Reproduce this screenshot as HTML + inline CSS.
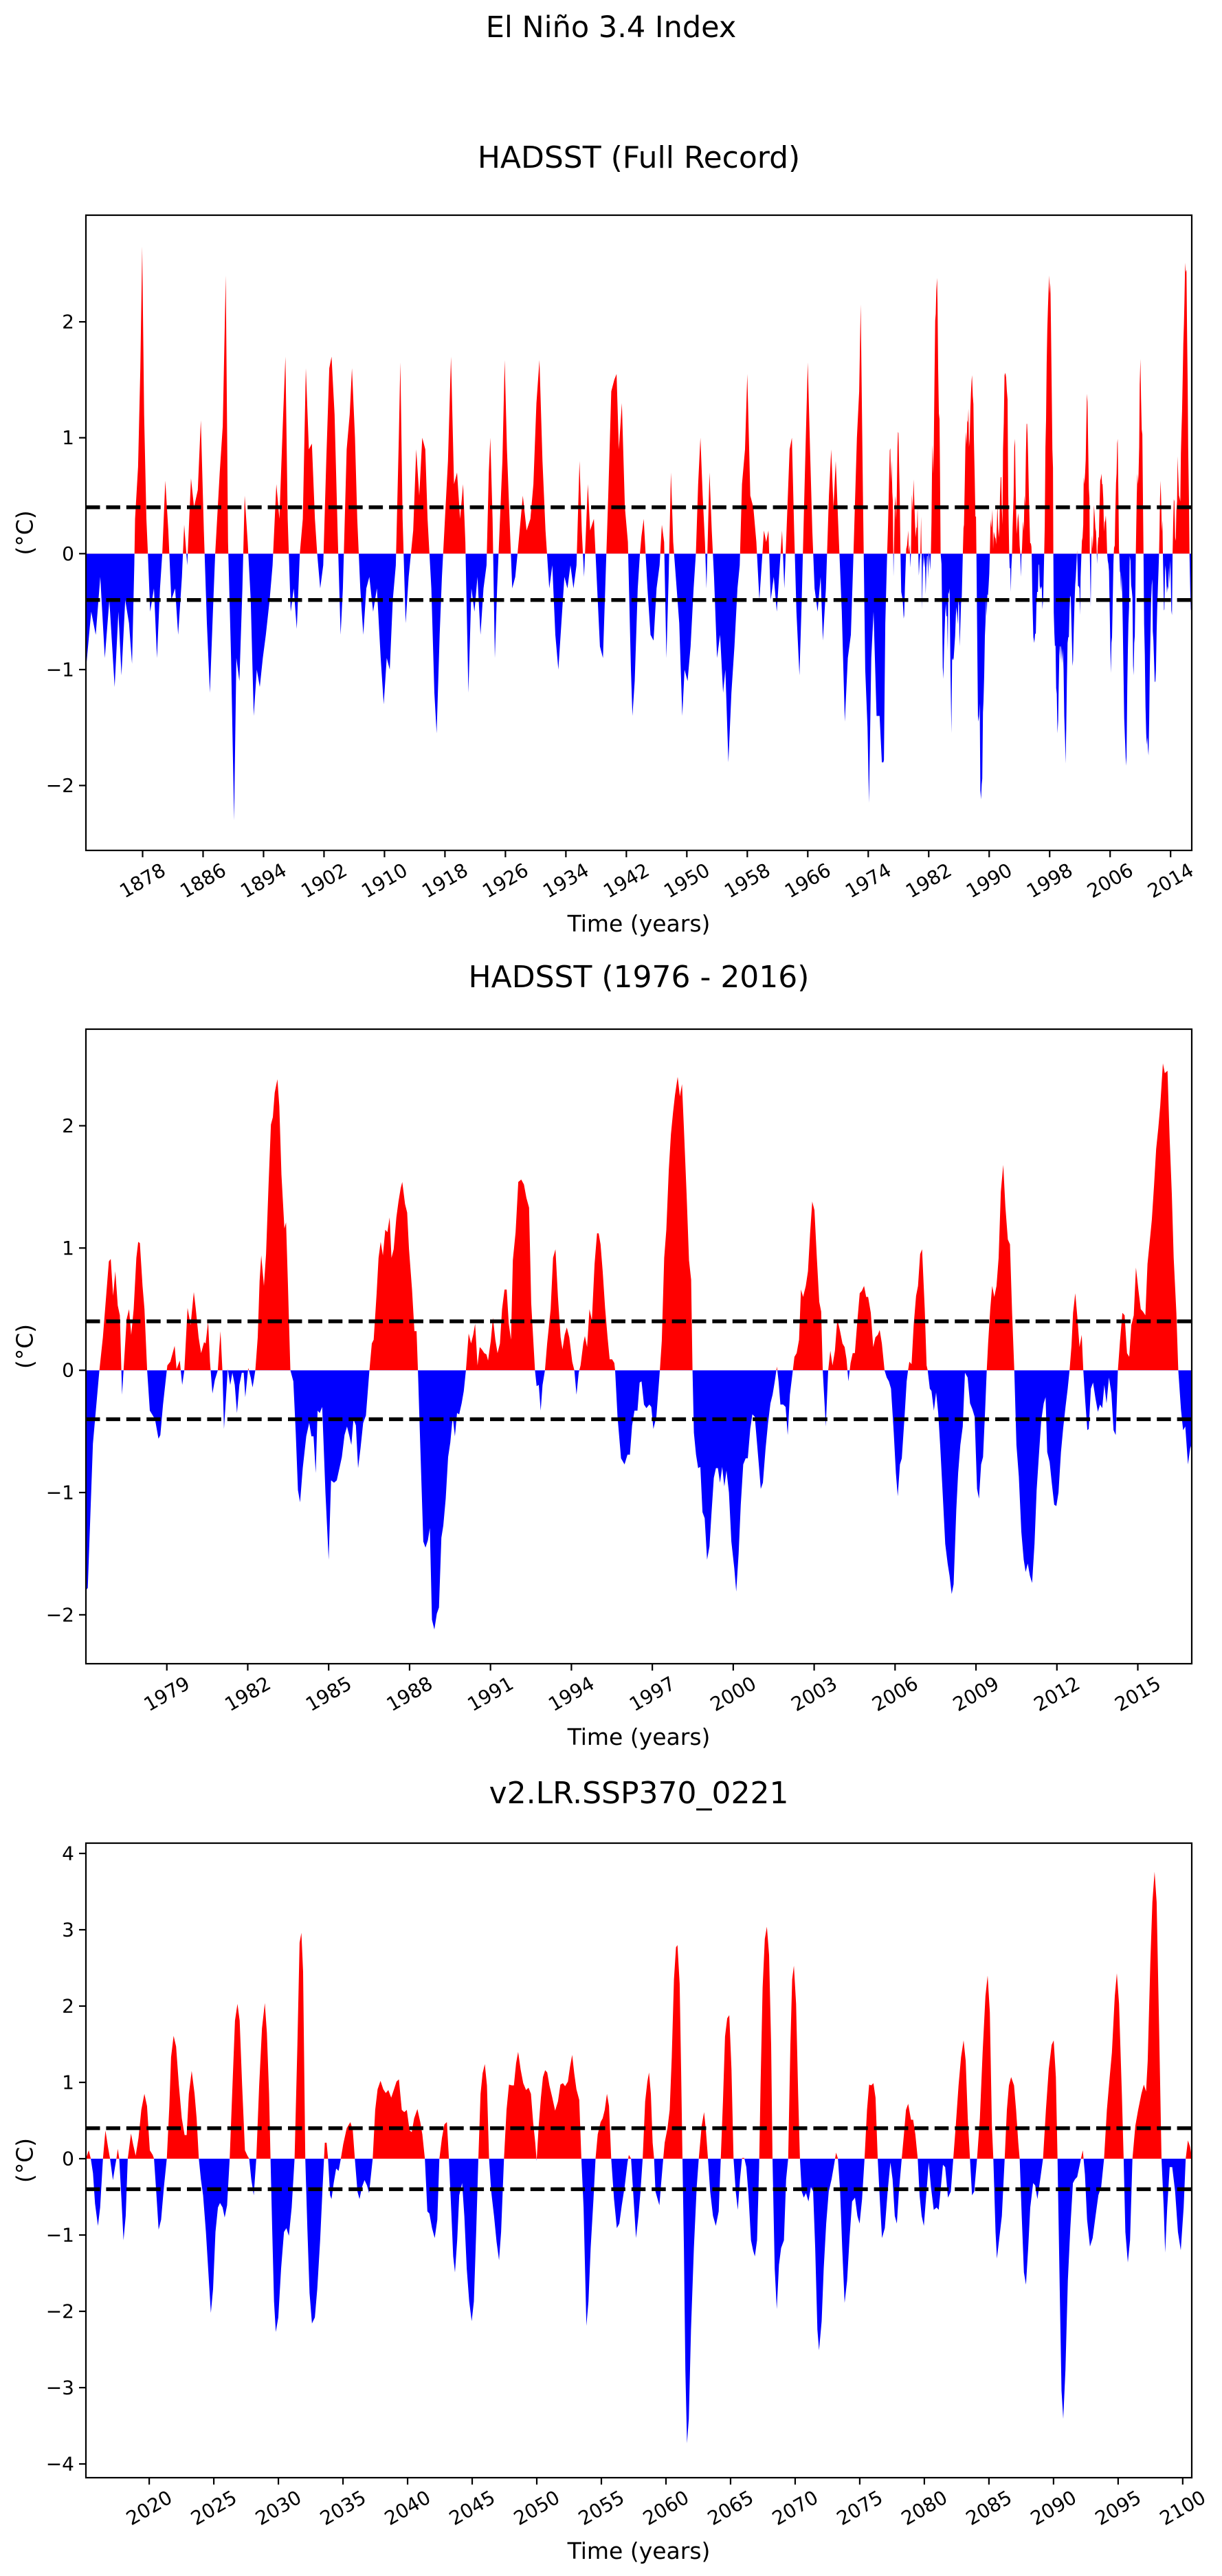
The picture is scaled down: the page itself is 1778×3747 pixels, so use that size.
<!DOCTYPE html>
<html><head><meta charset="utf-8"><style>
html,body{margin:0;padding:0;background:#fff;}
svg{display:block;font-family:"DejaVu Sans","Liberation Sans",sans-serif;}
</style></head><body>
<svg id="fig" width="1778" height="3747" viewBox="0 0 1778 3747" xmlns="http://www.w3.org/2000/svg">
<rect width="1778" height="3747" fill="#fff"/>
<text x="889" y="54" font-size="43" text-anchor="middle">El Niño 3.4 Index</text>
</svg>
<script>
// ---- Data ----
const earlyYears=[1870.5,1871.2,1871.8,1872.4,1873.0,1873.6,1874.3,1874.8,1875.2,1875.7,1876.2,1876.6,1876.9,1877.0,1877.4,1877.7,1877.95,1878.2,1878.5,1878.7,1879.0,1879.5,1879.9,1880.3,1880.6,1881.0,1881.4,1881.8,1882.3,1882.7,1883.2,1883.5,1883.9,1884.4,1884.8,1885.3,1885.7,1886.1,1886.5,1886.9,1887.3,1887.6,1888.2,1888.6,1889.0,1889.3,1889.7,1890.1,1890.4,1890.8,1891.2,1891.5,1891.9,1892.3,1892.7,1893.1,1893.5,1893.9,1894.3,1894.8,1895.2,1895.7,1896.1,1896.6,1896.9,1897.2,1897.6,1898.0,1898.4,1898.8,1899.2,1899.6,1900.0,1900.4,1900.8,1901.1,1901.5,1901.9,1902.3,1902.7,1903.0,1903.4,1903.8,1904.2,1904.5,1905.0,1905.4,1905.7,1906.1,1906.4,1906.8,1907.2,1907.6,1908.0,1908.5,1909.0,1909.5,1909.9,1910.3,1910.7,1911.1,1911.5,1911.9,1912.1,1912.4,1912.8,1913.2,1913.8,1914.2,1914.6,1915.0,1915.4,1915.7,1916.2,1916.6,1916.9,1917.3,1917.6,1918.0,1918.4,1918.8,1919.2,1919.6,1920.0,1920.4,1920.7,1921.1,1921.5,1921.9,1922.3,1922.7,1923.1,1923.5,1923.8,1924.0,1924.3,1924.6,1924.9,1925.6,1925.9,1926.2,1926.6,1926.9,1927.3,1927.6,1928.3,1928.8,1929.3,1929.7,1930.1,1930.5,1930.9,1931.3,1931.8,1932.2,1932.6,1933.0,1933.4,1933.8,1934.2,1934.6,1935.0,1935.4,1935.8,1936.1,1936.4,1936.9,1937.2,1937.7,1938.5,1938.9,1939.2,1939.6,1940.0,1940.4,1940.7,1941.0,1941.4,1941.8,1942.2,1942.6,1942.8,1943.1,1943.5,1943.8,1944.0,1944.3,1944.8,1945.2,1945.6,1946.0,1946.4,1946.7,1947.0,1947.3,1947.6,1947.9,1948.2,1949.0,1949.4,1949.7,1950.1,1950.5,1950.9,1951.2,1951.5,1951.8,1952.1,1952.4,1952.6,1953.0,1953.3,1953.6,1954.0,1954.4,1954.8,1955.1,1955.5,1955.9,1956.3,1956.7,1957.0,1957.3,1957.7,1958.0,1958.4,1958.8,1959.2,1959.6,1959.9,1960.2,1960.5,1960.8,1961.1,1961.5,1961.9,1962.3,1962.6,1962.9,1963.6,1963.9,1964.2,1964.5,1964.9,1965.2,1965.7,1966.0,1966.3,1966.6,1966.9,1967.3,1967.7,1968.0,1968.4,1968.8,1969.1,1969.4,1969.7,1970.0,1970.5,1970.9,1971.3,1971.7,1972.0,1972.5,1972.8,1973.0,1973.3,1973.6,1973.9,1974.1,1974.4,1974.7,1975.1,1975.5,1975.8];
const earlyValues=[-1.0,-0.5,-0.7,-0.2,-0.9,-0.4,-1.15,-0.5,-1.05,-0.4,-0.6,-0.95,-0.1,0.3,0.75,1.6,2.65,1.2,0.3,0,-0.5,-0.3,-0.9,-0.3,0,0.63,0.2,-0.4,-0.3,-0.7,-0.2,0.25,-0.1,0.65,0.4,0.55,1.15,0.2,-0.6,-1.2,-0.5,0,0.7,1.1,2.4,0.1,-0.9,-2.3,-0.9,-1.1,-0.3,0.5,0.1,-0.4,-1.4,-1.0,-1.15,-0.9,-0.7,-0.4,-0.1,0.6,0.3,1.2,1.7,0.3,-0.5,-0.3,-0.65,0,0.3,1.6,0.9,0.95,0.3,0,-0.3,-0.1,0.8,1.6,1.7,1.2,0.2,-0.7,-0.3,0.9,1.2,1.6,1.0,0.3,-0.3,-0.7,-0.3,-0.2,-0.5,-0.3,-0.9,-1.3,-0.9,-1.0,-0.4,-0.1,1.0,1.65,0.3,-0.6,-0.2,0.2,0.9,0.5,1.0,0.9,0.3,-0.3,-1.2,-1.55,-0.7,-0.2,0.3,0.8,1.7,0.6,0.7,0.3,0.6,0.1,-1.2,-0.3,-0.5,-0.2,-0.7,-0.3,-0.1,0.7,1.0,0.3,-0.9,-0.3,0.8,1.67,0.9,0.2,-0.3,-0.2,0,0.5,0.2,0.3,0.6,1.3,1.67,0.8,0.2,-0.3,-0.1,-0.7,-1.0,-0.6,-0.2,-0.3,-0.1,-0.3,-0.1,0.8,0.2,-0.2,0.6,0.2,0.3,-0.8,-0.9,-0.3,0.5,1.4,1.5,1.55,0.9,1.3,0.4,0.1,-1.0,-1.4,-1.1,-0.3,0,0.15,0.3,-0.3,-0.7,-0.75,-0.3,-0.1,0.25,0.1,-0.9,-0.2,0.7,0.1,-0.6,-1.4,-1.0,-1.1,-0.8,-0.3,0,0.6,1.0,0.5,0.1,-0.3,0.7,0.2,-0.2,-0.9,-0.7,-1.2,-1.0,-1.8,-1.2,-0.8,-0.3,-0.1,0.6,0.9,1.55,0.5,0.4,0.1,-0.4,-0.1,0.2,0.1,0.2,-0.4,-0.2,-0.5,-0.1,0.2,-0.3,0.9,1.0,0.2,-0.5,-1.05,-0.4,0.9,1.65,0.9,0.2,-0.3,-0.5,-0.2,-0.75,-0.3,0.5,0.9,0.4,0.8,0.3,-0.5,-1.45,-0.9,-0.7,-0.1,1.0,1.4,2.15,0.5,-1.0,-1.5,-2.15,-0.9,-0.5,-1.4,-1.4,-1.8];
const recentYears=[1976.0,1976.07,1976.26,1976.5,1976.63,1976.85,1976.92,1977.01,1977.09,1977.18,1977.26,1977.34,1977.51,1977.6,1977.68,1977.77,1977.87,1977.94,1978.0,1978.1,1978.17,1978.27,1978.37,1978.56,1978.69,1978.76,1978.86,1979.0,1979.02,1979.13,1979.29,1979.36,1979.48,1979.57,1979.65,1979.77,1979.88,1980.0,1980.07,1980.18,1980.27,1980.38,1980.44,1980.53,1980.6,1980.69,1980.78,1980.89,1980.99,1981.06,1981.12,1981.26,1981.35,1981.43,1981.52,1981.6,1981.69,1981.78,1981.85,1981.91,1982.02,1982.11,1982.18,1982.28,1982.37,1982.44,1982.5,1982.6,1982.68,1982.77,1982.86,1982.93,1983.0,1983.1,1983.17,1983.25,1983.36,1983.42,1983.49,1983.58,1983.69,1983.78,1983.86,1983.94,1984.04,1984.17,1984.28,1984.36,1984.44,1984.52,1984.59,1984.67,1984.76,1984.88,1985.0,1985.09,1985.2,1985.3,1985.4,1985.49,1985.59,1985.68,1985.76,1985.84,1985.92,1986.01,1986.09,1986.18,1986.28,1986.38,1986.51,1986.6,1986.67,1986.78,1986.85,1986.93,1987.01,1987.1,1987.18,1987.26,1987.33,1987.41,1987.51,1987.59,1987.67,1987.73,1987.83,1987.91,1987.98,1988.09,1988.18,1988.26,1988.31,1988.4,1988.51,1988.59,1988.68,1988.75,1988.83,1988.92,1989.01,1989.09,1989.18,1989.25,1989.34,1989.43,1989.51,1989.6,1989.68,1989.76,1989.84,1989.93,1990.01,1990.09,1990.19,1990.28,1990.36,1990.43,1990.52,1990.6,1990.68,1990.77,1990.85,1990.91,1991.01,1991.09,1991.18,1991.26,1991.35,1991.43,1991.52,1991.6,1991.68,1991.76,1991.83,1991.93,1992.03,1992.14,1992.24,1992.33,1992.43,1992.51,1992.58,1992.65,1992.71,1992.79,1992.86,1992.93,1993.02,1993.1,1993.23,1993.32,1993.41,1993.5,1993.6,1993.67,1993.75,1993.83,1993.92,1994.03,1994.11,1994.19,1994.27,1994.34,1994.44,1994.5,1994.58,1994.67,1994.76,1994.86,1994.95,1995.01,1995.08,1995.16,1995.25,1995.34,1995.42,1995.51,1995.59,1995.62,1995.71,1995.84,1995.97,1996.08,1996.17,1996.25,1996.34,1996.45,1996.53,1996.6,1996.69,1996.78,1996.89,1996.96,1997.04,1997.15,1997.28,1997.35,1997.44,1997.52,1997.61,1997.69,1997.77,1997.84,1997.94,1998.02,1998.1,1998.17,1998.27,1998.36,1998.44,1998.49,1998.54,1998.62,1998.7,1998.78,1998.86,1998.94,1999.03,1999.12,1999.19,1999.28,1999.36,1999.43,1999.51,1999.59,1999.67,1999.75,1999.84,1999.93,2000.04,2000.11,2000.2,2000.28,2000.37,2000.46,2000.54,2000.63,2000.71,2000.8,2000.89,2000.96,2001.02,2001.1,2001.2,2001.29,2001.38,2001.46,2001.54,2001.62,2001.68,2001.75,2001.85,2001.94,2002.02,2002.1,2002.21,2002.27,2002.35,2002.44,2002.51,2002.59,2002.69,2002.77,2002.85,2002.93,2003.01,2003.1,2003.19,2003.26,2003.32,2003.43,2003.52,2003.6,2003.68,2003.77,2003.86,2003.96,2004.05,2004.13,2004.2,2004.27,2004.35,2004.43,2004.51,2004.6,2004.69,2004.77,2004.85,2004.93,2005.0,2005.1,2005.19,2005.27,2005.36,2005.43,2005.51,2005.61,2005.69,2005.77,2005.85,2005.95,2006.03,2006.1,2006.18,2006.25,2006.35,2006.43,2006.48,2006.53,2006.61,2006.69,2006.78,2006.85,2006.93,2007.0,2007.1,2007.17,2007.21,2007.29,2007.35,2007.44,2007.52,2007.6,2007.67,2007.77,2007.86,2007.95,2008.02,2008.1,2008.17,2008.27,2008.34,2008.42,2008.51,2008.59,2008.69,2008.78,2008.87,2008.95,2009.04,2009.11,2009.19,2009.26,2009.34,2009.4,2009.45,2009.53,2009.6,2009.68,2009.76,2009.84,2009.92,2010.01,2010.09,2010.18,2010.26,2010.34,2010.42,2010.5,2010.59,2010.68,2010.77,2010.84,2010.92,2011.0,2011.08,2011.17,2011.25,2011.34,2011.42,2011.51,2011.58,2011.64,2011.73,2011.81,2011.9,2011.98,2012.06,2012.15,2012.23,2012.32,2012.4,2012.47,2012.54,2012.6,2012.68,2012.76,2012.84,2012.92,2012.98,2013.05,2013.13,2013.18,2013.26,2013.34,2013.43,2013.52,2013.6,2013.68,2013.76,2013.84,2013.93,2014.02,2014.1,2014.18,2014.26,2014.34,2014.43,2014.51,2014.6,2014.68,2014.76,2014.85,2014.93,2015.02,2015.11,2015.19,2015.28,2015.36,2015.44,2015.52,2015.6,2015.68,2015.76,2015.83,2015.93,2016.0,2016.1,2016.18,2016.26,2016.33,2016.43,2016.5,2016.6,2016.68,2016.76,2016.86,2016.94,2017.0];
const recentValues=[-1.8,-1.78,-0.6,0,0.27,0.89,0.91,0.61,0.81,0.53,0.45,-0.2,0.42,0.5,0.29,0.5,0.92,1.05,1.04,0.69,0.5,0,-0.33,-0.4,-0.56,-0.53,-0.28,0,0.04,0.07,0.2,0.01,0.08,-0.12,0,0.51,0.37,0.64,0.51,0.27,0.14,0.23,0.22,0.4,0.07,-0.19,-0.08,0,0.32,0,-0.48,0.01,-0.12,-0.02,-0.12,-0.35,-0.12,-0.02,-0.02,-0.22,0.02,-0.06,-0.14,0,0.27,0.73,0.94,0.69,0.95,1.51,2.01,2.07,2.27,2.38,2.16,1.6,1.16,1.21,0.71,0,-0.09,-0.51,-0.98,-1.08,-0.8,-0.54,-0.43,-0.54,-0.54,-0.84,-0.33,-0.35,-0.3,-1.0,-1.55,-0.9,-0.92,-0.9,-0.8,-0.71,-0.53,-0.46,-0.53,-0.61,-0.4,-0.45,-0.8,-0.64,-0.43,-0.37,0,0.22,0.25,0.63,0.92,1.05,0.94,1.15,1.13,1.25,0.92,0.99,1.25,1.38,1.49,1.54,1.36,1.29,0.99,0.66,0.32,0.32,0,-0.64,-1.4,-1.45,-1.39,-1.29,-2.04,-2.12,-1.99,-1.94,-1.37,-1.27,-1.05,-0.71,-0.59,-0.38,-0.54,-0.35,-0.36,-0.27,-0.17,0,0.3,0.22,0.29,0.38,0.04,0.19,0.17,0.14,0.13,0.08,0.24,0.43,0.25,0.14,0.22,0.5,0.66,0.66,0.38,0.25,0.9,1.13,1.54,1.56,1.52,1.41,1.33,0.55,0.27,0,-0.13,-0.12,-0.33,-0.12,0,0.22,0.5,0.92,0.99,0.6,0.27,0.17,0.29,0.35,0.27,0.07,0,-0.2,-0.02,0.04,0.22,0.28,0.19,0.5,0.41,0.87,1.12,1.12,1.03,0.81,0.51,0.27,0.09,0.09,0.06,0,-0.38,-0.72,-0.77,-0.69,-0.69,-0.45,-0.33,-0.33,-0.1,-0.09,-0.28,-0.31,-0.28,-0.3,-0.48,-0.38,0,0.24,0.92,1.15,1.64,1.93,2.11,2.25,2.4,2.24,2.34,1.99,1.44,0.9,0.74,0,-0.51,-0.69,-0.8,-0.79,-1.16,-1.21,-1.55,-1.44,-1.18,-0.88,-0.8,-0.8,-0.92,-0.79,-0.95,-0.82,-1.0,-1.4,-1.62,-1.81,-1.5,-1.1,-0.77,-0.72,-0.72,-0.48,-0.36,-0.38,-0.62,-0.8,-0.97,-0.92,-0.64,-0.43,-0.27,-0.2,-0.09,0.03,-0.09,-0.28,-0.28,-0.3,-0.53,-0.2,0,0.11,0.14,0.25,0.66,0.6,0.69,0.81,1.12,1.38,1.31,0.92,0.56,0.48,0,-0.46,0,0.16,0.04,0.16,0.42,0.32,0.22,0.19,0.09,-0.09,0.06,0.14,0.14,0.4,0.63,0.65,0.69,0.6,0.6,0.47,0.19,0.27,0.29,0.33,0.22,0,-0.06,-0.09,-0.15,-0.51,-0.84,-1.03,-0.77,-0.72,-0.38,-0.09,0,0.07,0.05,0.37,0.61,0.69,0.95,0.99,0.5,0.04,0,-0.15,-0.17,-0.33,-0.18,-0.35,-0.61,-1.03,-1.42,-1.58,-1.68,-1.83,-1.75,-1.14,-0.84,-0.61,-0.46,-0.02,-0.06,-0.27,-0.32,-0.38,-0.97,-1.05,-0.77,-0.71,-0.32,0,0.22,0.5,0.69,0.6,0.69,0.92,1.46,1.68,1.34,1.07,1.03,0.47,0,-0.61,-0.87,-1.32,-1.55,-1.65,-1.58,-1.68,-1.74,-1.42,-0.98,-0.67,-0.41,-0.27,-0.22,-0.67,-0.75,-0.92,-1.1,-1.11,-1.0,-0.67,-0.48,-0.3,-0.15,0,0.2,0.47,0.63,0.43,0.19,0.29,0,-0.25,-0.49,-0.48,-0.15,-0.1,-0.23,-0.34,-0.28,-0.31,-0.12,-0.27,-0.06,-0.19,-0.49,-0.53,0,0.24,0.47,0.45,0.14,0.11,0.37,0.45,0.84,0.66,0.5,0.48,0.45,0.87,1.05,1.23,1.51,1.81,1.98,2.16,2.51,2.43,2.45,1.9,1.44,0.92,0.47,0,-0.32,-0.49,-0.46,-0.77,-0.64,-0.6];
const modelYears=[2015.1,2015.32,2015.48,2015.65,2015.81,2016.03,2016.2,2016.42,2016.61,2016.8,2016.97,2017.19,2017.35,2017.46,2017.57,2017.68,2017.85,2018.01,2018.18,2018.34,2018.59,2018.75,2018.95,2019.17,2019.39,2019.63,2019.83,2020.05,2020.27,2020.37,2020.54,2020.73,2020.92,2021.14,2021.36,2021.56,2021.69,2021.89,2022.08,2022.3,2022.52,2022.74,2022.9,2023.07,2023.29,2023.51,2023.67,2023.84,2024.0,2024.17,2024.39,2024.58,2024.77,2024.94,2025.13,2025.32,2025.48,2025.68,2025.84,2026.03,2026.23,2026.42,2026.64,2026.83,2027.0,2027.19,2027.41,2027.6,2027.74,2027.9,2028.09,2028.29,2028.51,2028.73,2028.95,2029.11,2029.28,2029.39,2029.52,2029.66,2029.8,2029.99,2030.21,2030.43,2030.62,2030.81,2031.03,2031.25,2031.47,2031.64,2031.78,2031.91,2032.08,2032.24,2032.41,2032.6,2032.82,2033.01,2033.23,2033.42,2033.59,2033.73,2033.84,2034.0,2034.11,2034.28,2034.47,2034.66,2034.83,2035.02,2035.29,2035.57,2035.76,2035.92,2036.12,2036.28,2036.47,2036.67,2036.86,2037.02,2037.3,2037.49,2037.68,2037.9,2038.12,2038.31,2038.51,2038.73,2038.95,2039.14,2039.33,2039.55,2039.74,2039.94,2040.15,2040.32,2040.51,2040.76,2040.98,2041.14,2041.34,2041.53,2041.69,2041.89,2042.1,2042.3,2042.46,2042.66,2042.85,2043.04,2043.2,2043.4,2043.53,2043.67,2043.84,2044.0,2044.22,2044.39,2044.58,2044.77,2044.96,2045.13,2045.32,2045.48,2045.65,2045.81,2045.98,2046.14,2046.31,2046.47,2046.69,2046.89,2047.08,2047.24,2047.46,2047.66,2047.85,2048.07,2048.23,2048.4,2048.56,2048.75,2048.95,2049.17,2049.36,2049.55,2049.72,2049.88,2049.99,2050.15,2050.32,2050.48,2050.65,2050.81,2050.98,2051.2,2051.42,2051.64,2051.83,2052.02,2052.19,2052.41,2052.57,2052.74,2052.9,2053.07,2053.29,2053.45,2053.62,2053.84,2054.0,2054.17,2054.39,2054.55,2054.72,2054.94,2055.1,2055.26,2055.43,2055.59,2055.76,2055.98,2056.2,2056.39,2056.58,2056.8,2057.02,2057.13,2057.3,2057.46,2057.68,2057.87,2058.03,2058.2,2058.39,2058.56,2058.69,2058.83,2058.97,2059.08,2059.19,2059.35,2059.49,2059.63,2059.79,2059.9,2060.12,2060.29,2060.45,2060.62,2060.78,2060.89,2061.06,2061.17,2061.28,2061.39,2061.5,2061.63,2061.77,2061.94,2062.16,2062.38,2062.54,2062.76,2062.95,2063.09,2063.25,2063.42,2063.64,2063.86,2064.08,2064.24,2064.41,2064.57,2064.74,2064.9,2065.07,2065.23,2065.4,2065.56,2065.73,2065.89,2066.06,2066.22,2066.39,2066.58,2066.74,2066.88,2067.05,2067.21,2067.32,2067.48,2067.65,2067.81,2067.98,2068.14,2068.25,2068.42,2068.58,2068.75,2068.91,2069.13,2069.3,2069.46,2069.63,2069.77,2069.9,2070.07,2070.23,2070.37,2070.51,2070.67,2070.84,2071.03,2071.22,2071.39,2071.55,2071.72,2071.85,2072.05,2072.21,2072.4,2072.6,2072.82,2072.98,2073.17,2073.31,2073.48,2073.64,2073.83,2074.02,2074.22,2074.41,2074.63,2074.82,2074.99,2075.18,2075.37,2075.56,2075.73,2075.89,2076.06,2076.22,2076.39,2076.55,2076.72,2076.94,2077.16,2077.37,2077.54,2077.71,2077.87,2078.03,2078.25,2078.42,2078.58,2078.75,2078.97,2079.13,2079.3,2079.49,2079.63,2079.79,2079.96,2080.12,2080.34,2080.51,2080.73,2080.95,2081.11,2081.28,2081.44,2081.61,2081.83,2082.05,2082.24,2082.43,2082.65,2082.84,2083.04,2083.2,2083.36,2083.53,2083.69,2083.86,2084.08,2084.3,2084.51,2084.73,2084.9,2085.07,2085.23,2085.34,2085.51,2085.62,2085.78,2086.0,2086.22,2086.39,2086.55,2086.72,2086.94,2087.1,2087.27,2087.38,2087.54,2087.71,2087.87,2088.04,2088.2,2088.42,2088.58,2088.75,2088.97,2089.19,2089.41,2089.63,2089.85,2090.01,2090.18,2090.31,2090.48,2090.62,2090.75,2090.92,2091.11,2091.3,2091.5,2091.66,2091.83,2091.99,2092.16,2092.27,2092.43,2092.6,2092.82,2093.03,2093.25,2093.47,2093.69,2093.91,2094.13,2094.35,2094.52,2094.74,2094.9,2095.07,2095.29,2095.43,2095.56,2095.75,2095.92,2096.11,2096.33,2096.55,2096.8,2096.99,2097.16,2097.29,2097.49,2097.65,2097.82,2097.98,2098.17,2098.36,2098.53,2098.64,2098.8,2098.99,2099.19,2099.41,2099.63,2099.85,2100.07,2100.23,2100.4,2100.56,2100.73];
const modelValues=[0,0.11,0,-0.19,-0.59,-0.88,-0.64,0,0.37,0.16,0,-0.28,-0.11,0,0.13,0,-0.53,-1.07,-0.75,0,0.33,0.19,0.04,0.27,0.64,0.85,0.69,0.11,0.05,0,-0.43,-0.93,-0.8,-0.37,0,0.69,1.33,1.61,1.47,0.96,0.53,0.31,0.31,0.85,1.15,0.85,0.53,0,-0.27,-0.48,-0.96,-1.49,-2.02,-1.71,-0.96,-0.64,-0.58,-0.64,-0.77,-0.61,0,0.85,1.81,2.03,1.81,0.96,0.11,0.04,0,-0.27,-0.48,0,0.96,1.71,2.04,1.65,0.85,0,-0.91,-1.87,-2.27,-2.08,-1.44,-0.96,-0.91,-1.01,-0.64,0,1.49,2.83,2.96,2.45,0,-0.91,-1.76,-2.16,-2.08,-1.71,-1.07,-0.37,0.21,0.21,0,-0.48,-0.53,-0.32,-0.13,-0.16,0,0.19,0.4,0.48,0.37,0,-0.43,-0.53,-0.37,-0.28,-0.35,-0.45,0,0.64,0.91,1.02,0.91,0.86,0.9,0.8,0.91,1.01,1.04,0.64,0.61,0.64,0.37,0.35,0.53,0.65,0.48,0.32,0,-0.69,-0.72,-0.91,-1.04,-0.8,0,0.27,0.45,0.48,0,-0.75,-1.28,-1.49,-1.07,-0.48,-0.32,-0.75,-1.44,-1.87,-2.13,-1.87,-0.91,0,0.85,1.12,1.24,0.96,0,-0.43,-0.75,-1.09,-1.33,-0.96,0,0.64,0.97,0.96,0.96,1.25,1.4,1.17,0.99,0.9,0.93,0.85,0.48,0.21,-0.03,0.43,0.8,1.07,1.16,1.13,0.96,0.8,0.63,0.75,0.97,0.99,0.95,1.01,1.2,1.36,1.12,0.91,0.77,0,-0.64,-2.19,-1.87,-1.17,-0.53,0,0.32,0.48,0.53,0.64,0.85,0.69,0,-0.53,-0.91,-0.85,-0.61,-0.37,-0.05,0.05,0,-0.43,-1.04,-0.75,-0.43,0,0.75,1.01,1.13,0.85,0.21,0,-0.43,-0.53,-0.61,-0.32,0,0.21,0.4,0.64,1.33,2.35,2.77,2.8,2.29,1.17,0,-1.17,-2.77,-3.73,-3.41,-2.24,-1.17,-0.37,0,0.43,0.61,0.37,0,-0.43,-0.75,-0.88,-0.69,0,0.75,1.6,1.84,1.88,1.17,0,-0.43,-0.67,-0.27,0.01,0.01,-0.11,-0.48,-1.07,-1.2,-1.28,-1.07,-0.11,0.96,2.24,2.88,3.04,2.67,1.49,0,-1.44,-1.97,-1.39,-1.17,-1.07,-0.27,0,1.49,2.35,2.53,2.03,0.85,0,-0.43,-0.51,-0.45,-0.56,-0.37,-0.43,-1.17,-2.24,-2.51,-2.13,-1.44,-0.85,-0.43,-0.27,-0.11,0.08,0,-0.43,-1.17,-1.89,-1.6,-1.01,-0.56,-0.51,-0.75,-0.85,-0.53,0,0.64,0.97,0.96,0.99,0.8,0,-0.53,-1.04,-0.91,-0.43,-0.05,-0.27,-0.75,-0.85,-0.43,0,0.32,0.64,0.72,0.51,0.51,0.32,0,-0.48,-0.75,-0.88,-0.53,-0.05,-0.37,-0.67,-0.64,-0.67,-0.37,-0.08,-0.11,-0.51,-0.43,0,0.43,0.96,1.33,1.55,1.28,0.53,0,-0.48,-0.43,0,0.53,1.39,2.13,2.4,1.92,0.43,0,-0.96,-1.31,-1.07,-0.75,0,0.64,0.96,1.07,0.96,0.64,0.21,0,-0.75,-1.49,-1.65,-1.17,-0.64,-0.32,-0.35,-0.53,-0.27,0,0.64,1.17,1.49,1.55,1.07,0,-1.71,-3.04,-3.41,-2.77,-1.6,-0.91,-0.32,-0.27,-0.24,-0.11,0.03,0.11,-0.21,-0.8,-1.15,-1.04,-0.75,-0.48,-0.37,0,0.64,1.07,1.39,2.13,2.43,2.03,0.85,0,-0.96,-1.36,-1.07,0,0.43,0.64,0.85,0.97,0.88,1.28,2.56,3.36,3.76,3.36,1.76,0,-0.64,-1.23,-0.64,-0.11,-0.11,-0.43,-0.96,-1.2,-0.64,0,0.24,0.16,0];
const fullXTicks=[1878,1886,1894,1902,1910,1918,1926,1934,1942,1950,1958,1966,1974,1982,1990,1998,2006,2014];
const recentXTicks=[1979,1982,1985,1988,1991,1994,1997,2000,2003,2006,2009,2012,2015];
const modelXTicks=[2020,2025,2030,2035,2040,2045,2050,2055,2060,2065,2070,2075,2080,2085,2090,2095,2100];
const yTicks3=[-2,-1,0,1,2];
const yTicksModel=[-4,-3,-2,-1,0,1,2,3,4];
const threshold=0.4;

const NS='http://www.w3.org/2000/svg';
const svg=document.getElementById('fig');
function mk(tag,attrs,parent){const e=document.createElementNS(NS,tag);for(const k in attrs)e.setAttribute(k,attrs[k]);(parent||svg).appendChild(e);return e;}
const fmt=v=>(v<0?'\u2212'+Math.abs(v):String(v));

function panel(cfg){
  const L=125,R=1734,T=cfg.top,B=cfg.bottom;
  const sx=x=>L+(x-cfg.xmin)/(cfg.xmax-cfg.xmin)*(R-L);
  const sy=y=>T+(cfg.ymax-y)/(cfg.ymax-cfg.ymin)*(B-T);
  const g=mk('g',{});
  
  
  const cid=cfg.name+'-clip';
  const defs=mk('defs',{},g);
  const cpU=mk('clipPath',{id:cid+'-u'},defs);mk('rect',{x:L,y:T,width:R-L,height:sy(0)-T},cpU);
  const cpD=mk('clipPath',{id:cid+'-d'},defs);mk('rect',{x:L,y:sy(0),width:R-L,height:B-sy(0)},cpD);
  const xs=cfg.years,vs=cfg.values;
  let d='M'+sx(xs[0]).toFixed(1)+','+sy(0).toFixed(1);
  for(let i=0;i<xs.length;i++)d+='L'+sx(xs[i]).toFixed(1)+','+sy(vs[i]).toFixed(1);
  d+='L'+sx(xs[xs.length-1]).toFixed(1)+','+sy(0).toFixed(1)+'Z';
  const pu=mk('path',{d:d,fill:'#ff0000','clip-path':'url(#'+cid+'-u)'},g);
  
  
  const pd=mk('path',{d:d,fill:'#0000ff','clip-path':'url(#'+cid+'-d)'},g);
  
  
  [threshold,-threshold].forEach((t,i)=>{
    const ln=mk('line',{x1:L,x2:R,y1:sy(t),y2:sy(t),stroke:'#000','stroke-width':5.5,'stroke-dasharray':'20.5 8.9'},g);
    
    
  });
  const fr=mk('rect',{x:L,y:T,width:R-L,height:B-T,fill:'none',stroke:'#000','stroke-width':2.2},g);
  
  
  cfg.xticks.forEach(t=>{
    const x=sx(t);
    mk('line',{x1:x,x2:x,y1:B,y2:B+10,stroke:'#000','stroke-width':2.2},g);
    const tx=mk('text',{x:x,y:B+44,'font-size':28,'text-anchor':'middle','dominant-baseline':'central',transform:'rotate(-30 '+x+' '+(B+44)+')'},g);
    
    
    tx.textContent=String(t);
  });
  cfg.yticks.forEach(t=>{
    const y=sy(t);
    mk('line',{x1:L-10,x2:L,y1:y,y2:y,stroke:'#000','stroke-width':2.2},g);
    const ty=mk('text',{x:L-17,y:y,'font-size':28,'text-anchor':'end','dominant-baseline':'central'},g);
    
    
    ty.textContent=fmt(t);
  });
  const ti=mk('text',{x:(L+R)/2,y:cfg.titleY,'font-size':44,'text-anchor':'middle'},g);
  
  
  ti.textContent=cfg.title;
  const xl=mk('text',{x:(L+R)/2,y:B+118,'font-size':33,'text-anchor':'middle'},g);
  
  
  xl.textContent='Time (years)';
  const cy=(T+B)/2;
  const yl=mk('text',{x:36,y:cy,'font-size':33,'text-anchor':'middle','dominant-baseline':'central',transform:'rotate(-90 36 '+cy+')'},g);
  
  
  yl.textContent='(°C)';
}
panel({name:'full-record-panel',title:'HADSST (Full Record)',titleY:244,top:313,bottom:1237,xmin:1870.5,xmax:2016.8,ymin:-2.56,ymax:2.92,years:earlyYears.concat(recentYears),values:earlyValues.concat(recentValues),xticks:fullXTicks,yticks:yTicks3});
panel({name:'recent-panel',title:'HADSST (1976 - 2016)',titleY:1436,top:1497,bottom:2420,xmin:1976.0,xmax:2017.0,ymin:-2.40,ymax:2.79,years:recentYears,values:recentValues,xticks:recentXTicks,yticks:yTicks3});
panel({name:'model-panel',title:'v2.LR.SSP370_0221',titleY:2623,top:2681,bottom:3604,xmin:2015.1,xmax:2100.7,ymin:-4.18,ymax:4.135,years:modelYears,values:modelValues,xticks:modelXTicks,yticks:yTicksModel});
</script>
</body></html>
